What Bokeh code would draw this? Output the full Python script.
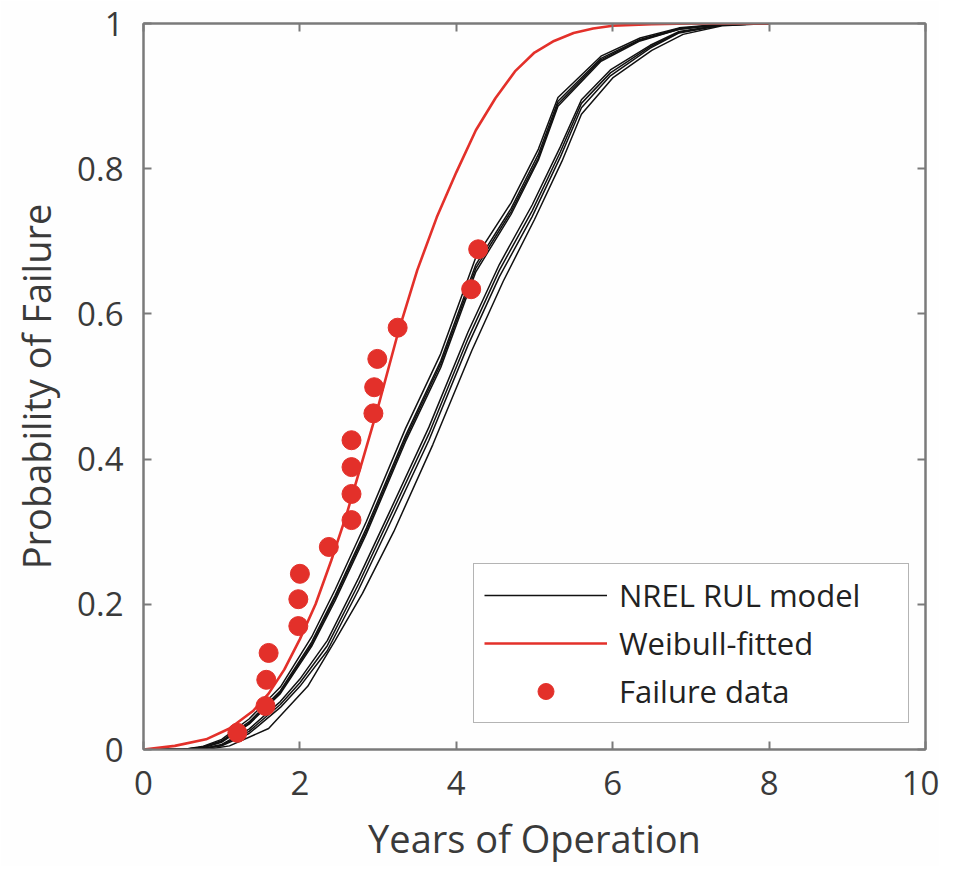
from bokeh.plotting import figure
from bokeh.models import LinearAxis, Legend, LegendItem, FixedTicker
from bokeh.embed import file_html
from bokeh.resources import INLINE

# ---- data ----
fail_x = [1.20, 1.56, 1.57, 1.60, 1.98, 1.98, 2.00, 2.37, 2.66, 2.66, 2.66, 2.66, 2.94, 2.95, 2.99, 3.25, 4.19, 4.28]
fail_y = [0.023, 0.060, 0.096, 0.133, 0.170, 0.207, 0.242, 0.279, 0.316, 0.352, 0.389, 0.426, 0.463, 0.499, 0.538, 0.581, 0.634, 0.689]

weib_x = [0, 0.4, 0.8, 1.1, 1.4, 1.6, 1.8, 2.0, 2.2, 2.4, 2.6, 2.8, 3.0, 3.25, 3.5, 3.75, 4.0, 4.25, 4.5, 4.75, 5.0, 5.25, 5.5, 5.75, 6.0, 6.5, 7.0, 8.0]
weib_y = [0, 0.005, 0.014, 0.029, 0.053, 0.077, 0.11, 0.152, 0.20, 0.26, 0.325, 0.398, 0.472, 0.572, 0.66, 0.733, 0.795, 0.853, 0.897, 0.934, 0.96, 0.976, 0.987, 0.993, 0.997, 0.999, 1.0, 1.0]

left_x = [0, 0.5, 0.75, 1.0, 1.35, 1.75, 2.15, 2.45, 2.85, 3.35, 3.8, 4.25, 4.7, 5.05, 5.3, 5.85, 6.35, 6.85, 7.4, 8.0]
left_a = [0, 0.0, 0.003, 0.012, 0.038, 0.081, 0.148, 0.212, 0.305, 0.432, 0.535, 0.668, 0.745, 0.820, 0.893, 0.952, 0.978, 0.993, 0.999, 1.0]
left_b = [0, 0.0, 0.004, 0.014, 0.042, 0.086, 0.155, 0.220, 0.314, 0.442, 0.545, 0.678, 0.753, 0.827, 0.898, 0.955, 0.980, 0.994, 0.999, 1.0]
left_c = [0, 0.0, 0.002, 0.010, 0.035, 0.077, 0.142, 0.205, 0.297, 0.424, 0.526, 0.658, 0.737, 0.812, 0.886, 0.948, 0.976, 0.992, 0.999, 1.0]
left_d = [0, 0.0, 0.003, 0.011, 0.036, 0.079, 0.145, 0.209, 0.301, 0.428, 0.531, 0.663, 0.741, 0.815, 0.889, 0.950, 0.977, 0.992, 0.999, 1.0]

right_x = [0, 0.7, 1.0, 1.35, 1.75, 2.0, 2.35, 2.75, 3.15, 3.65, 4.15, 4.55, 4.97, 5.33, 5.6, 5.97, 6.48, 6.85, 7.4, 8.0]
right_a = [0, 0.0, 0.006, 0.025, 0.062, 0.092, 0.143, 0.228, 0.320, 0.435, 0.566, 0.660, 0.742, 0.823, 0.890, 0.932, 0.968, 0.988, 0.998, 1.0]
right_b = [0, 0.0, 0.007, 0.028, 0.066, 0.097, 0.150, 0.236, 0.328, 0.444, 0.575, 0.668, 0.750, 0.830, 0.895, 0.936, 0.970, 0.989, 0.998, 1.0]
right_c = [0, 0.0, 0.005, 0.022, 0.058, 0.087, 0.136, 0.220, 0.311, 0.426, 0.557, 0.651, 0.734, 0.816, 0.884, 0.928, 0.966, 0.987, 0.998, 1.0]

low_x = [0, 0.8, 1.1, 1.6, 2.1, 2.45, 2.8, 3.2, 3.7, 4.2, 4.6, 5.0, 5.35, 5.6, 6.0, 6.5, 6.9, 7.4, 8.0]
low_y = [0, 0.0, 0.005, 0.029, 0.087, 0.150, 0.215, 0.300, 0.420, 0.550, 0.645, 0.730, 0.810, 0.875, 0.925, 0.963, 0.985, 0.997, 1.0]

x_ticks = [0, 2, 4, 6, 8, 10]
y_ticks = [0, 0.2, 0.4, 0.6, 0.8, 1]
y_tick_labels = {0: "0", 0.2: "0.2", 0.4: "0.4", 0.6: "0.6", 0.8: "0.8", 1: "1"}
x_title = "Years of Operation"
y_title = "Probability of Failure"

FONT = "Open Sans"
TICK_COLOR = "#3a3a3a"
AX_COLOR = "#7a7a7a"
RED = "#e3302a"

p = figure(output_backend="svg", toolbar_location=None,
           frame_width=782, frame_height=726,
           min_border_left=143, min_border_top=23, min_border_right=14, min_border_bottom=100,
           x_range=(0, 10), y_range=(0, 1))
p.background_fill_color = "#fefefe"
p.border_fill_color = "#fefefe"
p.outline_line_color = AX_COLOR
p.outline_line_width = 2
p.xgrid.visible = False
p.ygrid.visible = False

def style_axis(ax, labels=True):
    ax.axis_line_color = AX_COLOR
    ax.axis_line_width = 2
    ax.major_tick_line_color = AX_COLOR
    ax.major_tick_line_width = 2
    ax.major_tick_in = 8
    ax.major_tick_out = 0
    ax.minor_tick_line_color = None
    ax.major_label_text_font = FONT
    ax.major_label_text_font_size = "33px"
    ax.major_label_text_color = TICK_COLOR
    ax.axis_label_text_font = FONT
    ax.axis_label_text_font_size = "38px"
    ax.axis_label_text_font_style = "normal"
    ax.axis_label_text_color = TICK_COLOR
    if not labels:
        ax.major_label_text_font_size = "0px"
        ax.major_label_text_color = None

p.xaxis.ticker = FixedTicker(ticks=x_ticks)
p.yaxis.ticker = FixedTicker(ticks=y_ticks)
p.yaxis.major_label_overrides = y_tick_labels
p.xaxis.axis_label = x_title
p.yaxis.axis_label = y_title
style_axis(p.xaxis[0])
style_axis(p.yaxis[0])
p.xaxis.major_label_standoff = 21
p.yaxis.major_label_standoff = 20
p.xaxis.axis_label_standoff = 14
p.yaxis.axis_label_standoff = 12

top = LinearAxis(ticker=FixedTicker(ticks=x_ticks))
right = LinearAxis(ticker=FixedTicker(ticks=y_ticks))
style_axis(top, labels=False)
style_axis(right, labels=False)
p.add_layout(top, "above")
p.add_layout(right, "right")

# model curves
xs = [left_x, left_x, left_x, left_x, right_x, right_x, right_x, low_x]
ys = [left_a, left_b, left_c, left_d, right_a, right_b, right_c, low_y]
ml = p.multi_line(xs=xs, ys=ys, line_color="#111111", line_width=1.5)

wl = p.line(weib_x, weib_y, line_color=RED, line_width=2.6)
sc = p.scatter(fail_x, fail_y, size=19, fill_color=RED, line_color=RED, marker="circle")

legend = Legend(items=[
    LegendItem(label="NREL RUL model", renderers=[ml]),
    LegendItem(label="Weibull-fitted", renderers=[wl]),
    LegendItem(label="Failure data", renderers=[sc]),
], location=(330, 26))
legend.label_text_font = FONT
legend.label_text_font_size = "31px"
legend.label_text_color = "#222222"
legend.glyph_width = 123
legend.glyph_height = 40
legend.label_height = 40
legend.label_width = 279
legend.label_standoff = 12
legend.spacing = 6
legend.padding = 10
legend.margin = 0
legend.border_line_color = "#6a6a6a"
legend.border_line_width = 1.5
legend.background_fill_color = "#ffffff"
legend.background_fill_alpha = 1
p.add_layout(legend, "center")

open("out.html", "w").write(file_html(p, INLINE))
